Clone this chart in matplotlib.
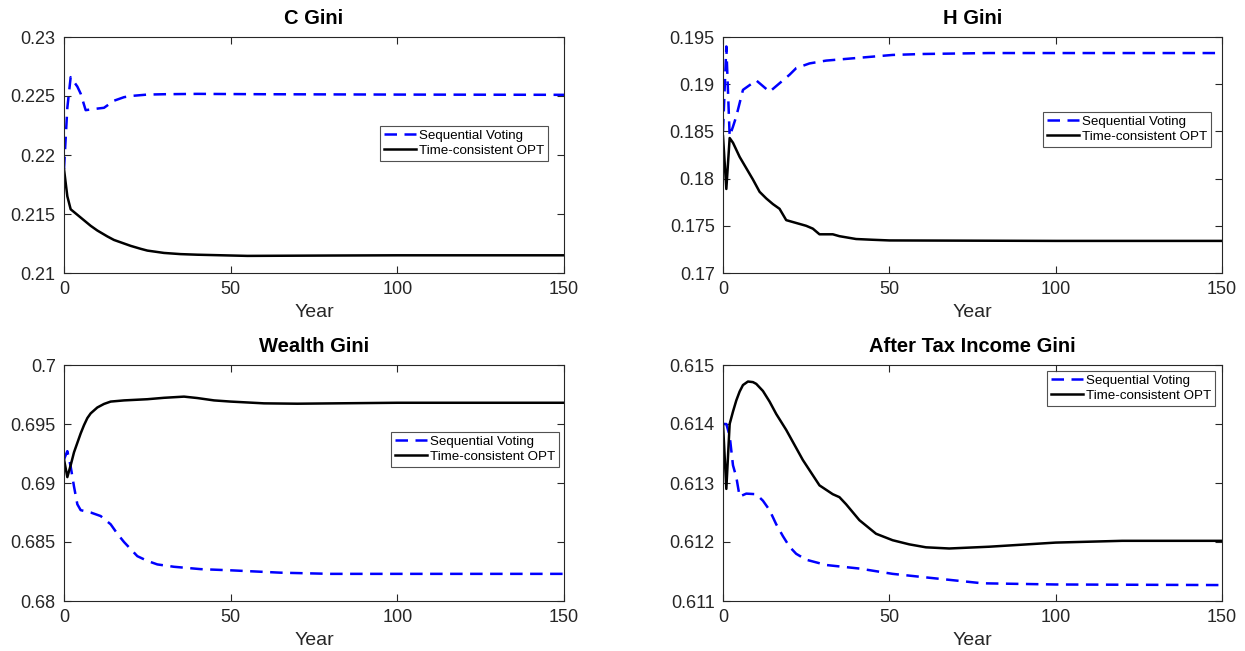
import matplotlib
matplotlib.use("Agg")
import matplotlib.pyplot as plt
from matplotlib.ticker import FuncFormatter

plt.rcParams['font.family'] = ['Liberation Sans', 'DejaVu Sans']

# ---- data ----
# C Gini
c_years_sv = [0, 1, 2, 4, 5, 6.5, 9, 12, 15, 18, 20, 25, 30, 40, 60, 100, 150]
c_sv = [0.2188, 0.2240, 0.2266, 0.2258, 0.2252, 0.2238, 0.2239, 0.2240, 0.2246,
        0.2249, 0.2250, 0.22512, 0.22515, 0.22518, 0.22515, 0.22512, 0.2251]
c_years_opt = [0, 1, 2, 5, 8, 10, 13, 15, 18, 20, 23, 25, 30, 35, 40, 55, 80, 100, 150]
c_opt = [0.2188, 0.2165, 0.2154, 0.2147, 0.2140, 0.2136, 0.2131, 0.2128, 0.2125,
         0.2123, 0.21205, 0.2119, 0.2117, 0.2116, 0.21155, 0.21145, 0.21148,
         0.2115, 0.2115]

# H Gini
h_years_sv = [0, 1, 2, 3, 4, 6, 8, 10, 12, 14, 17, 20, 22, 26, 31, 41, 51, 60, 80, 100, 150]
h_sv = [0.1850, 0.1940, 0.1845, 0.1855, 0.1866, 0.1894, 0.1899, 0.1904, 0.1898,
        0.1892, 0.1901, 0.1910, 0.1917, 0.1922, 0.1925, 0.1928, 0.1931, 0.1932,
        0.1933, 0.1933, 0.1933]
h_years_opt = [0, 1, 2, 3, 5, 7, 9, 11, 13, 15, 17, 19, 22, 25, 27, 29, 33, 35,
               40, 45, 50, 100, 150]
h_opt = [0.1845, 0.1789, 0.1843, 0.1838, 0.1823, 0.1811, 0.1799, 0.1786, 0.1779,
         0.1773, 0.1768, 0.1756, 0.1753, 0.1750, 0.1747, 0.1741, 0.1741, 0.1739,
         0.1736, 0.17352, 0.17345, 0.1734, 0.1734]

# Wealth Gini
w_years_sv = [0, 1, 2, 3, 4, 5, 8, 11, 14, 16, 18, 20, 22, 25, 28, 33, 41, 50,
              65, 80, 100, 150]
w_sv = [0.6920, 0.6927, 0.6914, 0.6897, 0.6882, 0.6877, 0.6875, 0.6872, 0.6865,
        0.6857, 0.6850, 0.6844, 0.6838, 0.6834, 0.6831, 0.6829, 0.6827, 0.6826,
        0.6824, 0.6823, 0.6823, 0.6823]
w_years_opt = [0, 1, 2, 3, 4, 5, 6, 7, 8, 10, 12, 14, 18, 25, 30, 36, 40, 45,
               50, 60, 70, 100, 150]
w_opt = [0.6920, 0.6905, 0.6915, 0.6926, 0.6934, 0.6942, 0.6949, 0.6955, 0.6959,
         0.6964, 0.6967, 0.6969, 0.6970, 0.6971, 0.69722, 0.69732, 0.6972,
         0.6970, 0.6969, 0.69675, 0.69672, 0.6968, 0.6968]

# After Tax Income Gini
a_years_sv = [0, 1, 2, 3, 4, 5, 7, 10, 12, 14, 16, 18, 20, 22, 25, 31, 41, 51,
              61, 78, 100, 150]
a_sv = [0.6140, 0.6140, 0.6138, 0.6133, 0.6131, 0.61277, 0.61282, 0.61281,
        0.6127, 0.61254, 0.6123, 0.6121, 0.61192, 0.6118, 0.6117, 0.61161,
        0.61155, 0.61146, 0.6114, 0.6113, 0.61128, 0.61127]
a_years_opt = [0, 1, 2, 3, 4, 5, 6, 7.5, 9, 10, 12, 14, 16, 19, 24, 29, 33, 35,
               37, 41, 46, 51, 56, 61, 68, 80, 100, 120, 150]
a_opt = [0.6140, 0.6129, 0.6140, 0.61421, 0.6144, 0.61455, 0.61466, 0.61472,
         0.61471, 0.61468, 0.61456, 0.61438, 0.61417, 0.6139, 0.61339, 0.61296,
         0.61281, 0.61276, 0.61264, 0.61237, 0.61214, 0.61203, 0.61196,
         0.61191, 0.61189, 0.61192, 0.61199, 0.61202, 0.61202]

titles = ["C Gini", "H Gini", "Wealth Gini", "After Tax Income Gini"]
ylims = [(0.21, 0.23), (0.17, 0.195), (0.68, 0.70), (0.611, 0.615)]
yticks = [[0.21, 0.215, 0.22, 0.225, 0.23],
          [0.17, 0.175, 0.18, 0.185, 0.19, 0.195],
          [0.68, 0.685, 0.69, 0.695, 0.70],
          [0.611, 0.612, 0.613, 0.614, 0.615]]
series = [(c_years_sv, c_sv, c_years_opt, c_opt),
          (h_years_sv, h_sv, h_years_opt, h_opt),
          (w_years_sv, w_sv, w_years_opt, w_opt),
          (a_years_sv, a_sv, a_years_opt, a_opt)]

# axes rectangles (pixels of the 1245x651 figure) and legend anchors (axes coords)
W, H = 1245, 651
boxes = [(64, 37, 500, 236), (723, 37, 499, 236),
         (64, 365, 500, 236), (723, 365, 499, 236)]
legend_anchor = [(0.632, 0.625), (0.641, 0.684), (0.654, 0.718), (0.649, 0.976)]

fig = plt.figure(figsize=(W / 100, H / 100), dpi=100)
fmt = FuncFormatter(lambda v, p: f"{v:g}")

for i in range(4):
    x0, y0, w, h = boxes[i]
    ax = fig.add_axes([x0 / W, 1 - (y0 + h) / H, w / W, h / H])
    ys_x, ys, yo_x, yo = series[i]
    ax.plot(ys_x, ys, color=(0, 0, 1), lw=1.8, dashes=(5, 3),
            label="Sequential Voting")
    ax.plot(yo_x, yo, color="black", lw=1.8, label="Time-consistent OPT")

    ax.set_xlim(0, 150)
    ax.set_ylim(*ylims[i])
    ax.set_xticks([0, 50, 100, 150])
    ax.set_yticks(yticks[i])
    ax.yaxis.set_major_formatter(fmt)
    ax.tick_params(direction="in", top=True, right=True, labelsize=13,
                   length=5, width=0.8, colors="#262626", pad=6)
    for sp in ax.spines.values():
        sp.set_color("#262626")
        sp.set_linewidth(0.8)
    ax.set_title(titles[i], fontsize=14.5, fontweight="bold", pad=9)
    ax.set_xlabel("Year", fontsize=14, color="#262626", labelpad=4)

    leg = ax.legend(loc="upper left", bbox_to_anchor=legend_anchor[i],
                    fontsize=9.6, frameon=True, fancybox=False, handlelength=2.4,
                    handletextpad=0.2, borderpad=0.3, labelspacing=0.2,
                    borderaxespad=0)
    leg.get_frame().set_edgecolor("#262626")
    leg.get_frame().set_linewidth(0.8)

plt.savefig("out.png", dpi=100)
